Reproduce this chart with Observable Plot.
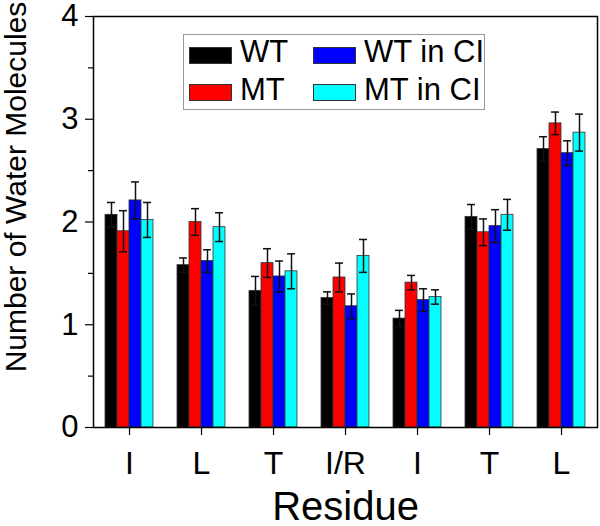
<!DOCTYPE html>
<html>
<head>
<meta charset="utf-8">
<script src="https://cdn.jsdelivr.net/npm/d3@7"></script>
<script src="https://cdn.jsdelivr.net/npm/@observablehq/plot@0.6"></script>
<style>
  body { margin: 0; background: white; }
  #wrap { position: relative; width: 600px; height: 526px; font-family: "Liberation Sans", Arial, sans-serif; }
  #wrap svg { position: absolute; left: 0; top: 0; }
  g[aria-label="y-axis label"] text { font-size: 30px; translate: 0 -35px; }
  g[aria-label="fx-axis label"] text { font-size: 40px; }
  .lg { position: absolute; font-size: 31px; line-height: 1; color: black; white-space: nowrap; }
  .sw { position: absolute; width: 41px; height: 15px; border: 1px solid #333; }
  #lgbox { position: absolute; left: 183px; top: 34px; width: 300px; height: 74px; border: 1.5px solid #999; background: white; }
</style>
</head>
<body>
<div id="wrap"></div>
<script>
const residues = ["I", "L", "T", "I/R", "I", "T", "L"];
const series = ["WT", "MT", "WT in CI", "MT in CI"];
const colors = ["#000000", "#ff0000", "#0000ff", "#00ffff"];

const wt      = [2.07, 1.58, 1.33, 1.26, 1.06, 2.05, 2.71];
const wtErr   = [0.12, 0.07, 0.14, 0.06, 0.08, 0.12, 0.12];
const mt      = [1.91, 2.00, 1.60, 1.46, 1.41, 1.90, 2.96];
const mtErr   = [0.20, 0.13, 0.14, 0.14, 0.07, 0.13, 0.11];
const wtci    = [2.21, 1.62, 1.47, 1.18, 1.24, 1.96, 2.67];
const wtciErr = [0.18, 0.11, 0.15, 0.12, 0.11, 0.16, 0.12];
const mtci    = [2.02, 1.95, 1.52, 1.67, 1.27, 2.07, 2.87];
const mtciErr = [0.17, 0.14, 0.17, 0.16, 0.07, 0.15, 0.18];

const yTicks = [0, 1, 2, 3, 4];
const yMinor = [0.5, 1.5, 2.5, 3.5];

const values = [wt, mt, wtci, mtci];
const errs = [wtErr, mtErr, wtciErr, mtciErr];
const data = residues.flatMap((r, i) => series.map((s, j) => ({
  idx: i, residue: r, series: s, value: values[j][i], err: errs[j][i]
})));

const chart = Plot.plot({
  width: 600,
  height: 526,
  marginLeft: 93,
  marginRight: 3,
  marginTop: 16,
  marginBottom: 99,
  style: { fontFamily: "'Liberation Sans', Arial, sans-serif", background: "white", color: "black", overflow: "visible" },
  fx: { domain: d3.range(residues.length), padding: 0 },
  x: { domain: series, axis: null, paddingInner: 0, paddingOuter: 0.824 },
  y: { domain: [0, 4] },
  color: { domain: series, range: colors },
  marks: [
    Plot.barY(data, { fx: "idx", x: "series", y: "value", fill: "series", stroke: "#333", strokeWidth: 0.8 }),
    Plot.ruleX(data, { fx: "idx", x: "series", y1: d => d.value - d.err, y2: d => d.value + d.err, stroke: "#111", strokeWidth: 1.5 }),
    Plot.tickY(data, { fx: "idx", x: "series", y: d => d.value + d.err, insetLeft: 2, insetRight: 2, stroke: "#111", strokeWidth: 1.5 }),
    Plot.tickY(data, { fx: "idx", x: "series", y: d => d.value - d.err, insetLeft: 2, insetRight: 2, stroke: "#111", strokeWidth: 1.5 }),
    Plot.axisY({ ticks: yTicks, tickSize: 8, tickPadding: 7, fontSize: 31, strokeWidth: 1.2, tickFormat: d3.format("d"),
      label: "Number of Water Molecules", labelAnchor: "center", labelOffset: 89, labelArrow: "none" }),
    Plot.axisY({ ticks: yMinor, tickSize: 5, strokeWidth: 1.2, tickFormat: () => "", label: null }),
    Plot.axisFx({ anchor: "bottom", tickSize: 8, tickPadding: 16, fontSize: 32, strokeWidth: 1.2,
      tickFormat: i => residues[i], label: "Residue", labelAnchor: "center", labelOffset: 92, labelArrow: "none" }),
    Plot.frame({ facet: "super", stroke: "black", strokeWidth: 1.5 })
  ]
});

const wrap = document.getElementById("wrap");
wrap.appendChild(chart);

// Legend (HTML overlay inside the plot frame)
const box = document.createElement("div");
box.id = "lgbox";
wrap.appendChild(box);
const legendPos = [
  { sx: 189, sy: 47, tx: 240, ty: 36 },
  { sx: 189, sy: 84, tx: 240, ty: 74 },
  { sx: 313, sy: 47, tx: 364, ty: 36 },
  { sx: 313, sy: 84, tx: 364, ty: 74 }
];
series.forEach((s, j) => {
  const p = legendPos[j];
  const sw = document.createElement("div");
  sw.className = "sw";
  sw.style.left = p.sx + "px";
  sw.style.top = p.sy + "px";
  sw.style.background = colors[j];
  wrap.appendChild(sw);
  const t = document.createElement("div");
  t.className = "lg";
  t.style.left = p.tx + "px";
  t.style.top = p.ty + "px";
  t.textContent = s;
  wrap.appendChild(t);
});
</script>
</body>
</html>
